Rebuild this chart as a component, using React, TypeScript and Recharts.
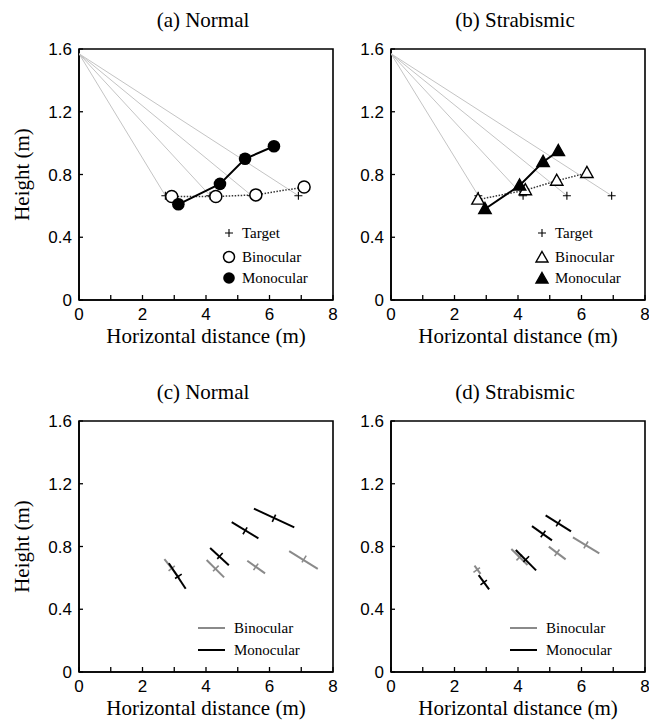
import React from "react";
import { ScatterChart, Scatter, XAxis, YAxis, ReferenceArea } from "recharts";

// axis ticks
const X_TICKS = [0, 1, 2, 3, 4, 5, 6, 7, 8];
const Y_TICKS = [0, 0.4, 0.8, 1.2, 1.6];

// eye height and target height (m)
const EYE_HEIGHT = 1.57;
const TARGET_HEIGHT = 0.665;

// (a) normal
const normalTargetX = [2.72, 4.13, 5.44, 6.91];
const normalBinoX = [2.92, 4.31, 5.57, 7.09];
const normalBinoY = [0.66, 0.66, 0.67, 0.72];
const normalMonoX = [3.13, 4.44, 5.23, 6.14];
const normalMonoY = [0.61, 0.74, 0.9, 0.98];

// (b) strabismic
const strabTargetX = [2.75, 4.16, 5.54, 6.95];
const strabBinoX = [2.74, 4.23, 5.22, 6.17];
const strabBinoY = [0.64, 0.7, 0.76, 0.81];
const strabMonoX = [2.96, 4.05, 4.79, 5.27];
const strabMonoY = [0.58, 0.73, 0.88, 0.95];

// (c) normal: spread segments [x1, y1, x2, y2] and their centres
const normalBinoSegs = [
  [2.69, 0.72, 3.16, 0.6],
  [4.02, 0.714, 4.57, 0.603],
  [5.3, 0.709, 5.86, 0.629],
  [6.62, 0.771, 7.52, 0.658],
];
const normalBinoCx = [2.92, 4.31, 5.57, 7.09];
const normalBinoCy = [0.66, 0.66, 0.67, 0.72];
const normalMonoSegs = [
  [2.83, 0.693, 3.36, 0.531],
  [4.13, 0.79, 4.72, 0.68],
  [4.81, 0.956, 5.65, 0.852],
  [5.51, 1.041, 6.78, 0.922],
];
const normalMonoCx = [3.13, 4.44, 5.23, 6.14];
const normalMonoCy = [0.61, 0.74, 0.9, 0.98];

// (d) strabismic
const strabBinoSegs = [
  [2.63, 0.678, 2.82, 0.625],
  [3.79, 0.784, 4.3, 0.682],
  [4.97, 0.799, 5.5, 0.718],
  [5.73, 0.858, 6.56, 0.756],
];
const strabBinoCx = [2.7, 4.04, 5.23, 6.14];
const strabBinoCy = [0.65, 0.73, 0.76, 0.81];
const strabMonoSegs = [
  [2.76, 0.618, 3.09, 0.527],
  [3.93, 0.778, 4.57, 0.648],
  [4.44, 0.93, 5.07, 0.839],
  [4.87, 0.999, 5.67, 0.897],
];
const strabMonoCx = [2.92, 4.26, 4.79, 5.27];
const strabMonoCy = [0.57, 0.72, 0.88, 0.95];

const SERIF = '"Liberation Serif", "Times New Roman", serif';
const SANS = '"Liberation Sans", Arial, sans-serif';
const GRAY = "#8a8a8a";

const CHART_H = 363;
const PLOT_W = 254;
const PLOT_H = 251;
const PX = PLOT_W / 8;
const PY = PLOT_H / 1.6;

const zip = (xs: number[], ys: number[]) => xs.map((x, i) => ({ x, y: ys[i] }));

const noDot = () => <g />;
const plus = (p: any) => (
  <path
    d={`M${p.cx - 4},${p.cy}H${p.cx + 4}M${p.cx},${p.cy - 4}V${p.cy + 4}`}
    stroke="#000"
    strokeWidth={1.1}
  />
);
const openCircle = (p: any) => (
  <circle cx={p.cx} cy={p.cy} r={6} fill="#fff" stroke="#000" strokeWidth={1.5} />
);
const filledCircle = (p: any) => <circle cx={p.cx} cy={p.cy} r={6.3} fill="#000" />;
const triangle = (fill: string) => (p: any) => (
  <path
    d={`M${p.cx},${p.cy - 6.5}L${p.cx + 6.2},${p.cy + 4.5}L${p.cx - 6.2},${p.cy + 4.5}Z`}
    fill={fill}
    stroke="#000"
    strokeWidth={1.4}
  />
);
const crossTick = (color: string) => (p: any) => {
  const vx = p.payload.dx * PX;
  const vy = -p.payload.dy * PY;
  const len = Math.hypot(vx, vy) || 1;
  const nx = (-vy / len) * 4;
  const ny = (vx / len) * 4;
  return (
    <line x1={p.cx - nx} y1={p.cy - ny} x2={p.cx + nx} y2={p.cy + ny} stroke={color} strokeWidth={1.6} />
  );
};

function sightLines(targets: number[]) {
  return targets.map((t, i) => (
    <Scatter
      key={`sight${i}`}
      data={[
        { x: 0, y: EYE_HEIGHT },
        { x: t, y: TARGET_HEIGHT },
      ]}
      line={{ stroke: "#c4c4c4", strokeWidth: 1 }}
      shape={noDot}
      isAnimationActive={false}
    />
  ));
}

function segments(name: string, segs: number[][], cx: number[], cy: number[], color: string) {
  const lines = segs.map((s, i) => (
    <Scatter
      key={`${name}${i}`}
      data={[
        { x: s[0], y: s[1] },
        { x: s[2], y: s[3] },
      ]}
      line={{ stroke: color, strokeWidth: 2 }}
      shape={noDot}
      isAnimationActive={false}
    />
  ));
  const centres = cx.map((x, i) => ({
    x,
    y: cy[i],
    dx: segs[i][2] - segs[i][0],
    dy: segs[i][3] - segs[i][1],
  }));
  lines.push(
    <Scatter key={`${name}c`} data={centres} shape={crossTick(color)} isAnimationActive={false} />
  );
  return lines;
}

type Row = { icon: React.ReactNode; label: string };

function Legend({ left, top, rows, gaps }: { left: number; top: number; rows: Row[]; gaps: number[] }) {
  return (
    <>
      {rows.map((r, i) => (
        <div
          key={r.label}
          style={{
            position: "absolute",
            left,
            top: top + gaps[i] - 10,
            height: 20,
            display: "flex",
            alignItems: "center",
            fontFamily: SERIF,
            fontSize: 15,
            color: "#000",
            whiteSpace: "nowrap",
          }}
        >
          {r.icon}
          <span>{r.label}</span>
        </div>
      ))}
    </>
  );
}

const markerIcon = (kind: string) => (
  <svg width={18} height={16} style={{ marginRight: 4 }}>
    {kind === "plus" && <path d="M5,8H13M9,4V12" stroke="#000" strokeWidth={1.1} />}
    {kind === "open" && <circle cx={9} cy={8} r={5.5} fill="#fff" stroke="#000" strokeWidth={1.5} />}
    {kind === "filled" && <circle cx={9} cy={8} r={5.8} fill="#000" />}
    {kind === "otri" && <path d="M9,2.5L15,13H3Z" fill="#fff" stroke="#000" strokeWidth={1.4} />}
    {kind === "ftri" && <path d="M9,2.5L15,13H3Z" fill="#000" stroke="#000" strokeWidth={1.4} />}
  </svg>
);

const lineIcon = (color: string) => (
  <svg width={27} height={10} style={{ marginRight: 9 }}>
    <line x1={0} y1={5} x2={27} y2={5} stroke={color} strokeWidth={2} />
  </svg>
);

function Panel({
  left,
  top,
  width,
  title,
  showYLabel,
  legend,
  children,
}: {
  left: number;
  top: number;
  width: number;
  title: string;
  showYLabel: boolean;
  legend: React.ReactNode;
  children: React.ReactNode;
}) {
  const right = width - 79 - PLOT_W;
  return (
    <div style={{ position: "absolute", left, top, width, height: CHART_H }}>
      <div
        style={{
          position: "absolute",
          left: 79 + PLOT_W / 2 - 3 - 100,
          width: 200,
          top: 10,
          textAlign: "center",
          fontFamily: SERIF,
          fontSize: 21,
          lineHeight: "21px",
          color: "#000",
        }}
      >
        {title}
      </div>
      <ScatterChart width={width} height={CHART_H} margin={{ top: 49, right, bottom: 33, left: 5 }}>
        <XAxis
          type="number"
          dataKey="x"
          domain={[0, 8]}
          ticks={X_TICKS}
          interval={0}
          allowDataOverflow
          height={30}
          tickSize={-5}
          tickMargin={13}
          tickFormatter={(v: number) => (v % 2 === 0 ? String(v) : "")}
          axisLine={{ stroke: "#000", strokeWidth: 1.6 }}
          tickLine={{ stroke: "#000", strokeWidth: 1.3 }}
          tick={{ fill: "#000", fontSize: 17, fontFamily: SANS }}
          label={{
            value: "Horizontal distance (m)",
            position: "bottom",
            offset: -2,
            style: { fontFamily: SERIF, fontSize: 21, fill: "#000" },
          }}
        />
        <YAxis
          type="number"
          dataKey="y"
          domain={[0, 1.6]}
          ticks={Y_TICKS}
          interval={0}
          allowDataOverflow
          width={74}
          tickSize={-4}
          tickMargin={11}
          tickFormatter={(v: number) => (v === 0 ? "0" : v.toFixed(1))}
          axisLine={{ stroke: "#000", strokeWidth: 1.6 }}
          tickLine={{ stroke: "#000", strokeWidth: 1.3 }}
          tick={{ fill: "#000", fontSize: 17, fontFamily: SANS }}
          label={
            showYLabel
              ? {
                  value: "Height (m)",
                  angle: -90,
                  position: "insideLeft",
                  offset: 17,
                  style: { textAnchor: "middle", fontFamily: SERIF, fontSize: 21, fill: "#000" },
                }
              : undefined
          }
        />
        {children}
        <ReferenceArea
          x1={0}
          x2={8}
          y1={0}
          y2={1.6}
          fill="none"
          fillOpacity={0}
          stroke="#000"
          strokeWidth={1.6}
          ifOverflow="visible"
        />
      </ScatterChart>
      {legend}
    </div>
  );
}

export default function App() {
  const markerRows = (bino: string, mono: string): Row[] => [
    { icon: markerIcon("plus"), label: "Target" },
    { icon: markerIcon(bino), label: "Binocular" },
    { icon: markerIcon(mono), label: "Monocular" },
  ];
  const lineRows: Row[] = [
    { icon: lineIcon(GRAY), label: "Binocular" },
    { icon: lineIcon("#000"), label: "Monocular" },
  ];

  return (
    <div
      style={{
        position: "absolute",
        left: 0,
        top: 0,
        width: 649,
        height: 726,
        background: "#fff",
        overflow: "hidden",
      }}
    >
      <Panel
        left={0}
        top={0}
        width={340}
        title="(a) Normal"
        showYLabel
        legend={<Legend left={220} top={49} rows={markerRows("open", "filled")} gaps={[184, 208, 229]} />}
      >
        {sightLines(normalTargetX)}
        <Scatter data={zip(normalTargetX, normalTargetX.map(() => TARGET_HEIGHT))} shape={plus} isAnimationActive={false} />
        <Scatter
          data={zip(normalBinoX, normalBinoY)}
          line={{ stroke: "#333", strokeWidth: 1.5, strokeDasharray: "1.5 1.5" }}
          shape={openCircle}
          isAnimationActive={false}
        />
        <Scatter
          data={zip(normalMonoX, normalMonoY)}
          line={{ stroke: "#000", strokeWidth: 2 }}
          shape={filledCircle}
          isAnimationActive={false}
        />
      </Panel>

      <Panel
        left={312}
        top={0}
        width={337}
        title="(b) Strabismic"
        showYLabel={false}
        legend={<Legend left={221} top={49} rows={markerRows("otri", "ftri")} gaps={[184, 208, 229]} />}
      >
        {sightLines(strabTargetX)}
        <Scatter data={zip(strabTargetX, strabTargetX.map(() => TARGET_HEIGHT))} shape={plus} isAnimationActive={false} />
        <Scatter
          data={zip(strabBinoX, strabBinoY)}
          line={{ stroke: "#333", strokeWidth: 1.5, strokeDasharray: "1.5 1.5" }}
          shape={triangle("#fff")}
          isAnimationActive={false}
        />
        <Scatter
          data={zip(strabMonoX, strabMonoY)}
          line={{ stroke: "#000", strokeWidth: 2 }}
          shape={triangle("#000")}
          isAnimationActive={false}
        />
      </Panel>

      <Panel
        left={0}
        top={372}
        width={340}
        title="(c) Normal"
        showYLabel
        legend={<Legend left={198} top={49} rows={lineRows} gaps={[207, 229]} />}
      >
        {segments("nb", normalBinoSegs, normalBinoCx, normalBinoCy, GRAY)}
        {segments("nm", normalMonoSegs, normalMonoCx, normalMonoCy, "#000")}
      </Panel>

      <Panel
        left={312}
        top={372}
        width={337}
        title="(d) Strabismic"
        showYLabel={false}
        legend={<Legend left={198} top={49} rows={lineRows} gaps={[207, 229]} />}
      >
        {segments("sb", strabBinoSegs, strabBinoCx, strabBinoCy, GRAY)}
        {segments("sm", strabMonoSegs, strabMonoCx, strabMonoCy, "#000")}
      </Panel>
    </div>
  );
}
